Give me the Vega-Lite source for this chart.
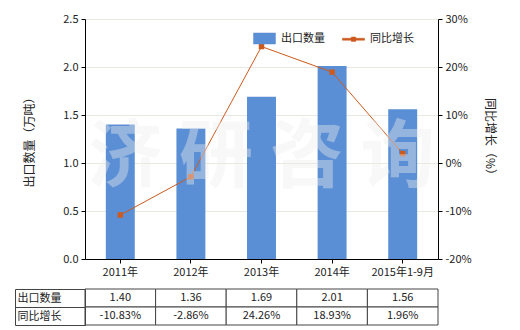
{
  "$schema": "https://vega.github.io/schema/vega-lite/v6.json",
  "padding": {"left": 14, "top": 13, "right": 5, "bottom": 5},
  "config": {
    "font": "Noto Sans CJK SC",
    "view": {"stroke": null},
    "axis": {
      "labelFont": "Noto Sans CJK SC",
      "labelFontSize": 11,
      "labelColor": "#222222",
      "titleFont": "Noto Sans CJK SC",
      "titleFontSize": 12,
      "titleFontWeight": "normal",
      "titleColor": "#222222",
      "domainColor": "#000000",
      "tickColor": "#000000",
      "tickSize": 4
    },
    "legend": {"labelFont": "Noto Sans CJK SC"},
    "concat": {"spacing": 6}
  },
  "datasets": {
    "main": [
      {"year": "2011年", "qty": 1.40, "pct": -10.83},
      {"year": "2012年", "qty": 1.36, "pct": -2.86},
      {"year": "2013年", "qty": 1.69, "pct": 24.26},
      {"year": "2014年", "qty": 2.01, "pct": 18.93},
      {"year": "2015年1-9月", "qty": 1.56, "pct": 1.96}
    ]
  },
  "vconcat": [
    {
      "width": 353,
      "height": 240,
      "layer": [
        {
          "data": {"name": "main"},
          "mark": {"type": "bar"},
          "encoding": {
            "x": {
              "field": "year", "type": "nominal", "sort": null,
              "scale": {"paddingInner": 0.59, "paddingOuter": 0.295},
              "axis": {"title": null, "labelAngle": 0, "labelPadding": 3}
            },
            "y": {
              "field": "qty", "type": "quantitative",
              "scale": {"domain": [0, 2.5]},
              "axis": {
                "title": "出口数量（万吨）",
                "values": [0, 0.5, 1, 1.5, 2, 2.5],
                "format": ".1f",
                "grid": true,
                "gridColor": "#E8E8E0",
                "titlePadding": 26,
                "labelPadding": 3
              }
            },
            "color": {
              "datum": "出口数量", "type": "nominal",
              "scale": {"domain": ["出口数量", "同比增长"], "range": ["#5A8FD5", "#CC5A1E"]},
              "legend": {
                "title": null,
                "orient": "none",
                "legendX": 168,
                "legendY": 8,
                "direction": "horizontal",
                "labelFontSize": 11,
                "labelColor": "#222222",
                "symbolSize": 484,
                "labelOffset": 5,
                "columnPadding": 16,
                "encode": {
                  "symbols": {
                    "update": {
                      "shape": {"signal": "datum.value === '出口数量' ? 'M-1,-0.5H1V0.5H-1Z' : 'M-1,-0.09H1V0.09H-1ZM-0.2,-0.2H0.2V0.2H-0.2Z'"},
                      "fill": {"signal": "datum.value === '出口数量' ? '#5A8FD5' : '#C8501A'"},
                      "stroke": {"signal": "datum.value === '出口数量' ? 'transparent' : '#C8501A'"},
                      "strokeWidth": {"value": 0.5},
                      "opacity": {"value": 1},
                      "fillOpacity": {"value": 1},
                      "strokeOpacity": {"value": 1},
                      "size": {"value": 484}
                    }
                  }
                }
              }
            }
          }
        },
        {
          "data": {"name": "main"},
          "mark": {"type": "line", "strokeWidth": 1, "point": {"shape": "square", "size": 30, "filled": true}},
          "encoding": {
            "x": {"field": "year", "type": "nominal", "sort": null},
            "y": {
              "field": "pct", "type": "quantitative",
              "scale": {"domain": [-20, 30]},
              "axis": {
                "orient": "right",
                "title": "同比增长（%）",
                "values": [-20, -10, 0, 10, 20, 30],
                "labelExpr": "datum.value + '%'",
                "grid": false,
                "titlePadding": 11,
                "labelPadding": 3
              }
            },
            "color": {"datum": "同比增长", "type": "nominal"}
          }
        },
        {
          "data": {"values": [{"wm": "济 研 咨 询"}]},
          "mark": {"type": "text", "fontSize": 74, "fontWeight": "bold", "font": "Noto Sans CJK SC", "color": "#EEEEEE", "opacity": 0.4},
          "encoding": {
            "text": {"field": "wm"},
            "x": {"datum": "2013年", "type": "nominal"},
            "y": {"datum": 1.04, "type": "quantitative", "scale": {"domain": [0, 2.5]}, "axis": null}
          }
        }
      ],
      "resolve": {"scale": {"y": "independent"}}
    },
    {
      "width": 353,
      "height": 36,
      "data": {"name": "main"},
      "transform": [
        {"calculate": "format(datum.qty, '.2f')", "as": "出口数量"},
        {"calculate": "replace(format(datum.pct, '.2f'), '−', '-') + '%'", "as": "同比增长"},
        {"fold": ["出口数量", "同比增长"], "as": ["row", "text"]}
      ],
      "layer": [
        {
          "mark": {"type": "rect", "fill": "#ffffff", "stroke": "#444444", "strokeWidth": 1},
          "encoding": {
            "x": {"field": "year", "type": "nominal", "sort": null, "scale": {"paddingInner": 0, "paddingOuter": 0}, "axis": null},
            "y": {
              "field": "row", "type": "nominal", "sort": ["出口数量", "同比增长"],
              "scale": {"paddingInner": 0, "paddingOuter": 0},
              "axis": {
                "title": null, "orient": "left", "labelAlign": "left", "tickBand": "extent",
                "tickSize": 70, "tickColor": "#444444", "domainColor": "#444444",
                "labelPadding": -2, "labelFontSize": 11, "labelColor": "#222222"
              }
            }
          }
        },
        {
          "mark": {"type": "text", "fontSize": 11, "color": "#222222"},
          "encoding": {
            "x": {"field": "year", "type": "nominal", "sort": null},
            "y": {
              "field": "row", "type": "nominal", "sort": ["出口数量", "同比增长"],
              "axis": {"title": null, "orient": "left", "offset": 70, "labels": false, "ticks": false, "grid": false, "domain": true, "domainColor": "#444444"}
            },
            "text": {"field": "text"}
          }
        }
      ],
      "resolve": {"axis": {"y": "independent"}}
    }
  ]
}
